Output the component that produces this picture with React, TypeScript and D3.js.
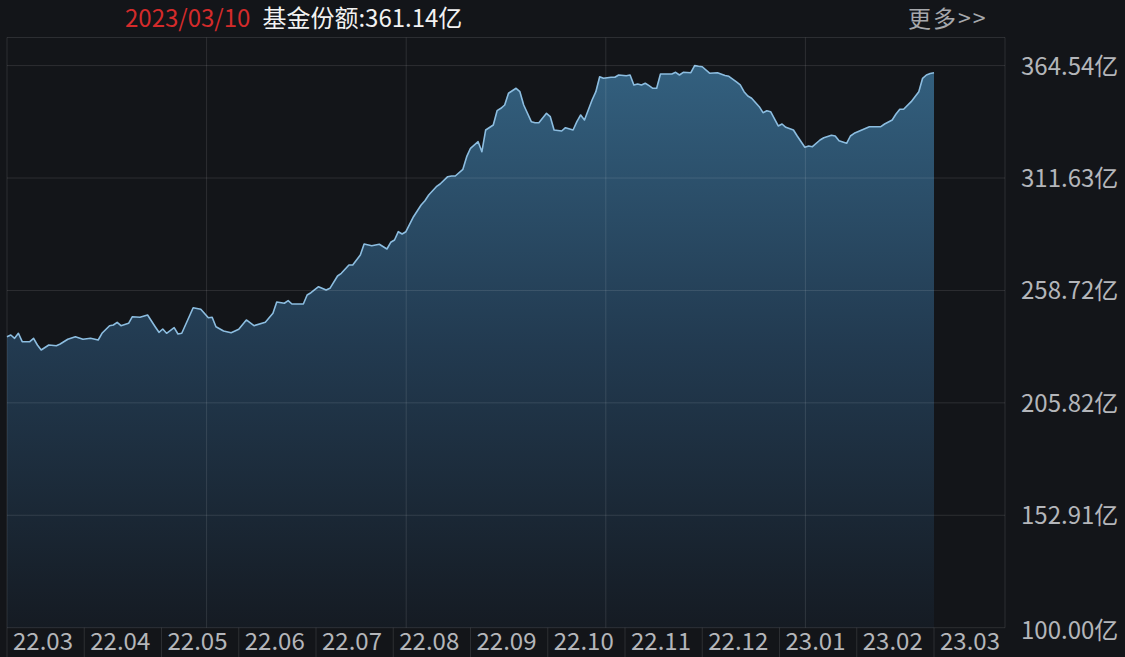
import React, { useEffect } from "react";
import * as d3 from "d3";

const W = 1125;
const H = 657;

const headerDate = "2023/03/10";
const headerLabel = "基金份额:361.14亿";
const moreLabel = "更多>>";
const monthLabels = ["22.03", "22.04", "22.05", "22.06", "22.07", "22.08", "22.09", "22.10", "22.11", "22.12", "23.01", "23.02", "23.03"];
const yTickValues = [100.0, 152.91, 205.82, 258.72, 311.63, 364.54];

// trading-day index and fund share (亿份)
const tradeDay = [
  0, 1, 2, 3, 4, 6, 7, 8, 9, 11, 13, 14, 16, 18, 20, 22, 24, 25, 27, 28, 29, 30, 32, 33, 35, 37, 39, 40, 41, 42,
  44, 45, 46, 49, 51, 53, 54, 55, 57, 59, 61, 63, 65, 68, 70, 71, 73, 74, 75, 78, 79, 80, 82, 84, 85, 87, 88, 90, 91, 93,
  94, 96, 98, 100, 101, 102, 103, 104, 105, 107, 109, 110, 111, 113, 114, 116, 117, 118, 120, 121, 122, 124, 125, 126, 128, 129, 130, 131, 132, 134,
  135, 136, 138, 139, 140, 142, 143, 144, 146, 147, 149, 150, 151, 152, 154, 155, 156, 157, 159, 160, 161, 163, 164, 165, 166, 167, 168, 169, 170, 171,
  172, 175, 176, 177, 178, 180, 181, 182, 183, 185, 187, 189, 190, 192, 193, 194, 195, 196, 198, 199, 200, 201, 203, 204, 205, 207, 208, 210, 211, 212,
  214, 215, 217, 218, 219, 221, 222, 223, 225, 227, 230, 231, 233, 234, 235, 236, 238, 240, 241, 242, 243, 244,
];
const shareValue = [
  236.96, 237.75, 236.2, 238.56, 234.6, 234.6, 236.2, 233.05, 230.7, 233.05, 232.72, 233.52, 235.73, 236.96, 235.73, 236.2, 235.4, 238.56, 242.13, 242.46, 243.73, 242.13, 243.26, 246.37, 246.09, 247.17, 241.66, 239.03, 240.58, 238.56,
  241.19, 238.23, 238.56, 250.6, 249.85, 245.9, 246.09, 241.66, 239.64, 238.84, 240.44, 244.82, 242.13, 243.73, 247.97, 253.29, 252.68, 253.9, 252.35, 252.35, 256.58, 257.66, 260.49, 258.93, 259.73, 265.52, 266.79, 270.7, 270.7, 275.41,
  280.58, 279.78, 280.44, 278.23, 281.38, 282.47, 286.37, 285.29, 286.37, 293.43, 298.94, 300.96, 303.65, 307.55, 308.82, 312.26, 312.59, 312.59, 315.74, 321.67, 325.63, 328.73, 324.02, 334.24, 336.59, 343.32, 344.45, 346.0, 351.51, 353.86,
  352.26, 346.0, 338.14, 337.67, 337.67, 342.09, 340.5, 334.24, 333.77, 335.32, 334.24, 338.14, 341.3, 338.94, 348.36, 352.26, 359.32, 358.57, 359.04, 359.04, 360.12, 359.79, 360.12, 355.42, 355.89, 355.42, 356.22, 355.09, 353.86, 353.86,
  360.59, 360.59, 361.39, 360.12, 361.39, 361.21, 364.54, 364.2, 364.0, 360.92, 361.21, 359.89, 359.51, 356.83, 355.42, 352.26, 350.24, 349.16, 345.2, 342.38, 343.32, 342.85, 336.12, 337.06, 335.51, 334.24, 331.41, 326.1, 326.71, 326.38,
  329.53, 330.61, 331.74, 331.41, 329.2, 327.98, 331.41, 332.68, 334.24, 335.79, 335.79, 337.06, 338.94, 341.77, 343.98, 343.98, 347.56, 352.26, 358.57, 360.12, 360.8, 361.14,
];

const FONT = "'Noto Sans CJK SC', 'Noto Sans', sans-serif";
const BG = "#131519";
const GRID = "rgba(255,255,255,0.11)";

export default function App() {
  useEffect(() => {
    document.body.style.margin = "0";
    document.body.style.background = BG;
  }, []);

  const left = 7;
  const right = 1005;
  const top = 37.5;
  const bottom = 627.7;

  const data = tradeDay.map((d, i) => ({ d, v: shareValue[i] }));
  const x = d3.scaleLinear().domain([0, d3.max(tradeDay) as number]).range([left, 934]);
  const y = d3.scaleLinear().domain([yTickValues[0], yTickValues[yTickValues.length - 1]]).range([bottom, 65.6]);
  const monthX = d3.scaleLinear().domain([0, 12]).range([left, 934]);

  const area = d3
    .area<{ d: number; v: number }>()
    .x((p) => x(p.d))
    .y0(bottom)
    .y1((p) => y(p.v));
  const line = d3
    .line<{ d: number; v: number }>()
    .x((p) => x(p.d))
    .y((p) => y(p.v));

  const vGrid = d3.range(1, 5).map((i) => left + (i * (right - left)) / 5);

  return (
    <div style={{ position: "fixed", left: 0, top: 0, width: W, height: H, background: BG }}>
      <svg width={W} height={H} style={{ display: "block" }}>
        <defs>
          <linearGradient id="fillGrad" gradientUnits="userSpaceOnUse" x1="0" y1={65} x2="0" y2={bottom}>
            <stop offset="0%" stopColor="#33607f" />
            <stop offset="50%" stopColor="#223a50" />
            <stop offset="100%" stopColor="#151b23" />
          </linearGradient>
        </defs>
        <rect x={0} y={0} width={W} height={H} fill={BG} />

        <path d={area(data) || ""} fill="url(#fillGrad)" />
        <path d={line(data) || ""} fill="none" stroke="#8cbde0" strokeWidth={1.6} strokeLinejoin="round" />

        {/* grid */}
        {yTickValues.slice(1).map((t) => (
          <line key={"h" + t} x1={left} x2={right} y1={y(t)} y2={y(t)} stroke={GRID} strokeWidth={1} />
        ))}
        {vGrid.map((gx) => (
          <line key={"v" + gx} x1={gx} x2={gx} y1={top} y2={bottom} stroke={GRID} strokeWidth={1} />
        ))}
        {/* frame */}
        <line x1={left} x2={right} y1={top} y2={top} stroke={GRID} />
        <line x1={left} x2={right} y1={bottom} y2={bottom} stroke={GRID} />
        <line x1={left} x2={left} y1={top} y2={H} stroke={GRID} />
        <line x1={right} x2={right} y1={top} y2={bottom} stroke={GRID} />

        {/* month strip */}
        {monthLabels.map((m, i) => (
          <g key={m}>
            {i > 0 && <line x1={monthX(i)} x2={monthX(i)} y1={bottom} y2={H} stroke={GRID} />}
            <text x={monthX(i) + 6} y={650} fill="#b4b6ba" fontSize={24} fontFamily={FONT}>
              {m}
            </text>
          </g>
        ))}

        {/* right axis labels */}
        {yTickValues.map((t, i) => (
          <text key={"yl" + t} x={1021} y={y(t) + (i === 0 ? 11.5 : 9)} fill="#b4b6ba" fontSize={24} fontFamily={FONT}>
            {t.toFixed(2) + "亿"}
          </text>
        ))}

        {/* header */}
        <text x={125} y={27} fontSize={24} fontFamily={FONT}>
          <tspan fill="#d42b2b">{headerDate}</tspan>
          <tspan dx={12} fill="#f2f2f2">{headerLabel}</tspan>
        </text>
        <text x={908} y={27} fill="#a6a8ac" fontSize={23} fontFamily={FONT} letterSpacing={2}>
          {moreLabel}
        </text>
      </svg>
    </div>
  );
}
